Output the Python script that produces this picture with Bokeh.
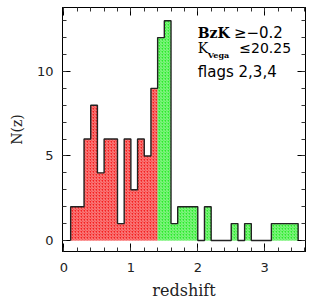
import math
import numpy as np
from bokeh.plotting import figure
from bokeh.models import Range1d, LinearAxis, Label, FixedTicker
from bokeh.embed import file_html
from bokeh.resources import INLINE

# ---- data ----
bin_width = 0.1
red_bin_lo = [0.1, 0.2, 0.3, 0.4, 0.5, 0.6, 0.7, 0.8, 0.9, 1.0, 1.1, 1.2, 1.3]
red_counts = [2, 2, 6, 8, 4, 6, 6, 1, 6, 3, 6, 5, 9]
green_bin_lo = [1.4, 1.5, 1.6, 1.7, 1.8, 1.9, 2.0, 2.1, 2.2, 2.3, 2.4,
                2.5, 2.6, 2.7, 2.8, 2.9, 3.0, 3.1, 3.2, 3.3, 3.4]
green_counts = [12, 13, 1, 2, 2, 2, 0, 2, 0, 0, 0,
                1, 0, 1, 0, 0, 0, 1, 1, 1, 1]
x_major_ticks = [0, 1, 2, 3]
y_major_ticks = [0, 5, 10]
x_minor_ticks = [round(v * 0.2, 1) for v in range(0, 19)]
y_minor_ticks = list(range(0, 14))


def step_path(lo, counts, w):
    xs, ys = [lo[0]], [0]
    for l, c in zip(lo, counts):
        xs += [l, l + w]
        ys += [c, c]
    xs.append(lo[-1] + w)
    ys.append(0)
    return xs, ys


p = figure(width=316, height=306, output_backend="svg", toolbar_location=None,
           x_range=Range1d(-0.022, 3.61), y_range=Range1d(-0.65, 13.78),
           min_border_left=62, min_border_right=11, min_border_top=7,
           min_border_bottom=55)
p.xgrid.visible = False
p.ygrid.visible = False
p.outline_line_color = "black"
p.outline_line_width = 1
p.background_fill_color = "white"
p.border_fill_color = "white"

hatch = dict(hatch_pattern="right_diagonal_line", hatch_color="white",
             hatch_alpha=0.5, hatch_scale=3, hatch_weight=1)

rx, ry = step_path(red_bin_lo, red_counts, bin_width)
gx, gy = step_path(green_bin_lo, green_counts, bin_width)
p.patch(rx, ry, fill_color="#f52020", line_color=None, **hatch)
p.patch(gx, gy, fill_color="#2aec2a", line_color=None, **hatch)

ax, ay = step_path(red_bin_lo + green_bin_lo, red_counts + green_counts, bin_width)
p.line(ax, ay, line_color="#222222", line_width=1.4)

bottom = p.below[0]
left = p.left[0]
bottom.ticker = FixedTicker(ticks=x_major_ticks, minor_ticks=x_minor_ticks)
left.ticker = FixedTicker(ticks=y_major_ticks, minor_ticks=y_minor_ticks)

top = LinearAxis(ticker=FixedTicker(ticks=x_major_ticks, minor_ticks=x_minor_ticks),
                 major_label_overrides={t: "" for t in x_major_ticks})
right = LinearAxis(ticker=FixedTicker(ticks=y_major_ticks, minor_ticks=y_minor_ticks),
                   major_label_overrides={t: "" for t in y_major_ticks})
p.add_layout(top, "above")
p.add_layout(right, "right")

for a in [bottom, left, top, right]:
    a.major_tick_out = 0
    a.minor_tick_out = 0
    a.major_tick_in = 8
    a.minor_tick_in = 4
    a.major_tick_line_color = "black"
    a.minor_tick_line_color = "#333333"
    a.axis_line_color = "black"
    a.major_label_text_font = "DejaVu Sans"
    a.major_label_text_font_size = "13px"
    a.major_label_text_color = "#222222"

for a in [top, right]:
    a.major_label_standoff = 0
    a.major_label_text_font_size = "4px"

bottom.major_label_standoff = 11
bottom.axis_label = "redshift"
bottom.axis_label_text_font = "DejaVu Serif"
bottom.axis_label_text_font_style = "normal"
bottom.axis_label_text_font_size = "16px"
bottom.axis_label_text_color = "#222222"
bottom.axis_label_standoff = 6

left.major_label_standoff = 9
left.axis_label = "N(z)"
left.axis_label_text_font = "DejaVu Serif"
left.axis_label_text_font_style = "normal"
left.axis_label_text_font_size = "14px"
left.axis_label_text_color = "#222222"
left.axis_label_standoff = 9


# annotation text
def lab(x, y, t, font, size, style="normal"):
    p.add_layout(Label(x=x, y=y, text=t, text_font=font, text_font_size=size,
                       text_font_style=style, text_align="left",
                       text_baseline="middle", text_color="black"))


lab(2.0, 12.25, "BzK", "DejaVu Serif", "14px", "bold")
lab(2.54, 12.25, "\u2265\u22120.2", "DejaVu Sans", "15px")
lab(2.0, 11.36, "K", "DejaVu Serif", "14px")
lab(2.15, 11.0, "Vega", "DejaVu Serif", "8px", "bold")
lab(2.62, 11.36, "\u226420.25", "DejaVu Sans", "14px")
lab(2.0, 9.94, "flags 2,3,4", "DejaVu Sans", "15px")

open("out.html", "w").write(file_html(p, INLINE))
